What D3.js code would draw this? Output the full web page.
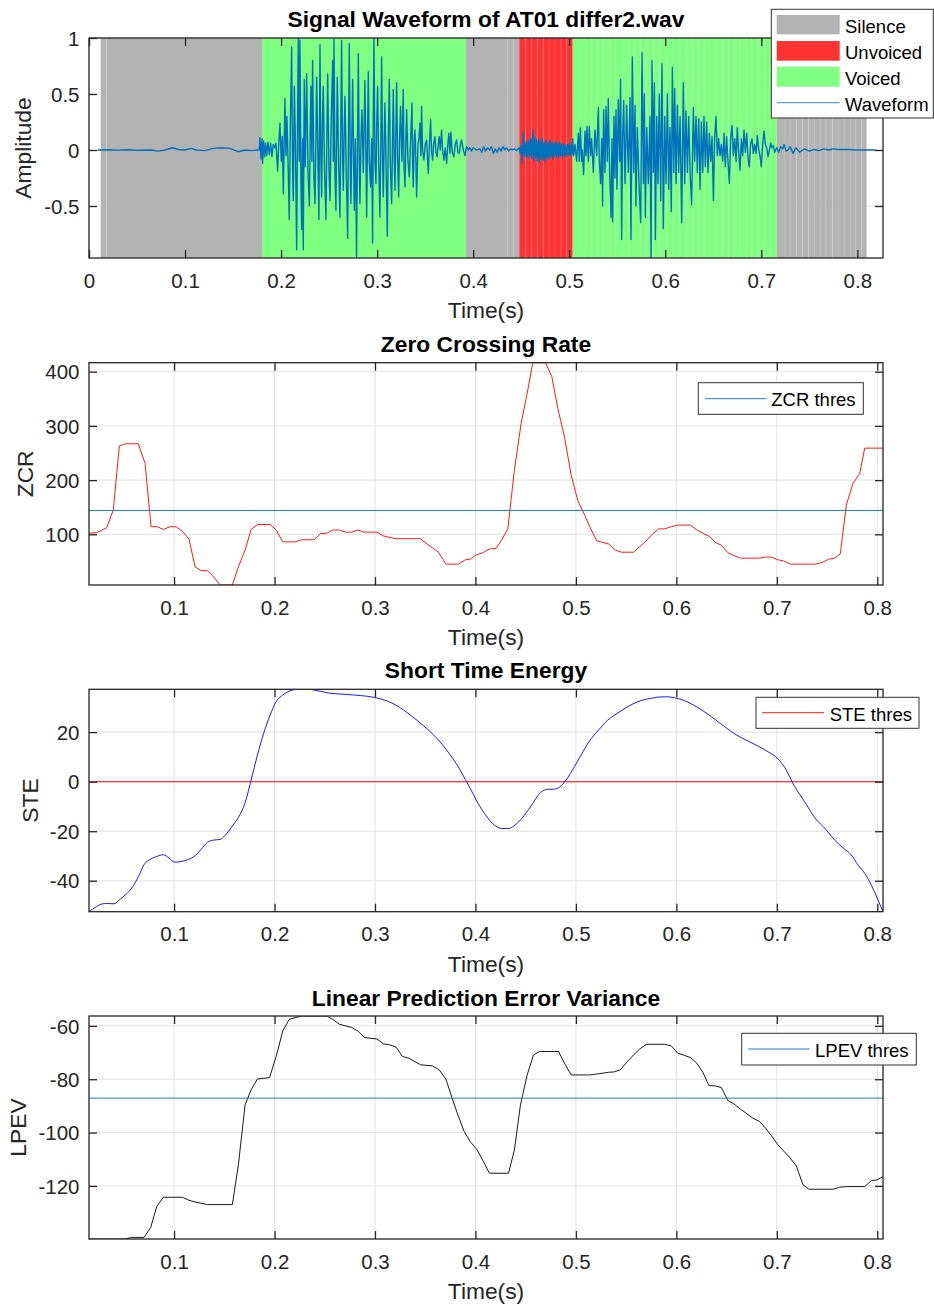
<!DOCTYPE html>
<html>
<head>
<meta charset="utf-8">
<script src="https://cdn.jsdelivr.net/npm/d3@7"></script>
<style>
  body { margin: 0; background: #fff; }
  svg { display: block; font-family: "Liberation Sans", Arial, Helvetica, sans-serif; }
</style>
</head>
<body>
<svg id="fig" width="934" height="1306"></svg>
<script>
// ---------------- data ----------------
// Frame classification of the recording: boundaries (s) and one class per interval
// S = silence, U = unvoiced, V = voiced
const segBounds = [0.0122, 0.0184, 0.1801, 0.3925, 0.4355, 0.4418, 0.4480,
  0.4547, 0.4610, 0.4668, 0.4730, 0.4790, 0.4852, 0.4915, 0.4974, 0.5036,
  0.5102, 0.5165, 0.5234, 0.5297, 0.5355, 0.5420, 0.5485, 0.5550, 0.5620, 0.5685,
  0.5744, 0.5807, 0.5876, 0.5940, 0.6010, 0.6080, 0.6150, 0.6223, 0.6284, 0.6344,
  0.6405, 0.6466, 0.6529, 0.6593, 0.6657, 0.6718, 0.6779, 0.6842, 0.6900, 0.6969,
  0.7030, 0.7091, 0.7161,
  0.7237, 0.7300, 0.7365, 0.7428, 0.7490, 0.7550, 0.7612, 0.7672, 0.7740, 0.7799,
  0.7862, 0.7924, 0.7984, 0.8046, 0.8096];
const segClass = ("SSVSSS" + "UUUUUUUUU" + "VVVVVVVVVV" + "VVVVVVVVVV" + "VVVVVVVVVV" + "VVV" +
  "SSSSSSSSSSSSSSS").split("");

const classNames = ["Silence", "Unvoiced", "Voiced"];

// Waveform samples [time (s), amplitude]
const wave = [
  [0.0090,0.000],[0.0200,0.002],[0.0300,-0.001],[0.0400,0.003],[0.0500,-0.002],[0.0653,0.000],[0.0722,-0.010],
  [0.0791,0.000],[0.0868,0.020],[0.0930,0.005],[0.0999,0.000],[0.1062,0.015],[0.1120,0.000],[0.1208,-0.005],
  [0.1295,0.015],[0.1381,0.020],[0.1468,0.015],[0.1555,-0.015],[0.1624,0.000],[0.1700,-0.005],[0.1750,0.000],
  [0.1773,0.00],[0.1780,0.11],[0.1791,-0.08],[0.1801,0.10],[0.1808,-0.12],[0.1818,0.08],[0.1829,-0.06],[0.1839,0.06],
  [0.1850,-0.05],[0.1863,0.07],[0.1877,-0.04],[0.1891,0.06],[0.1905,-0.06],[0.1919,0.05],[0.1933,0.02],[0.1947,0.06],
  [0.1964,-0.19],[0.1974,0.02],[0.1988,0.24],[0.2002,-0.10],[0.2013,0.12],[0.2023,-0.39],[0.2033,0.10],[0.2040,0.46],
  [0.2051,-0.05],[0.2061,0.30],[0.2075,-0.20],[0.2085,-0.62],[0.2096,0.20],[0.2110,0.92],[0.2120,-0.20],[0.2127,-0.45],
  [0.2138,0.57],[0.2148,0.10],[0.2162,-0.89],[0.2172,0.30],[0.2179,1.00],[0.2189,-0.10],[0.2196,0.98],[0.2207,-0.30],
  [0.2214,-0.71],[0.2224,0.10],[0.2231,-0.89],[0.2241,0.63],[0.2252,-0.15],[0.2266,0.68],[0.2280,-0.20],[0.2294,-0.50],
  [0.2304,0.20],[0.2311,0.57],[0.2321,-0.10],[0.2328,0.80],[0.2342,-0.25],[0.2353,-0.48],[0.2363,0.15],[0.2370,0.65],
  [0.2384,-0.10],[0.2394,-0.62],[0.2405,0.94],[0.2415,-0.10],[0.2422,-0.42],[0.2432,0.30],[0.2439,0.57],[0.2453,-0.20],
  [0.2467,-0.62],[0.2478,0.20],[0.2485,0.68],[0.2498,-0.15],[0.2509,-0.45],[0.2523,0.30],[0.2537,0.80],[0.2544,-0.10],
  [0.2551,0.99],[0.2561,-0.20],[0.2571,-0.54],[0.2585,0.65],[0.2599,-0.10],[0.2613,-0.60],[0.2623,0.30],[0.2630,0.98],
  [0.2641,-0.10],[0.2648,-0.36],[0.2658,0.20],[0.2665,0.48],[0.2679,-0.20],[0.2693,-0.79],[0.2703,0.20],[0.2710,0.95],
  [0.2720,-0.10],[0.2727,-0.48],[0.2738,0.20],[0.2745,0.63],[0.2755,-0.10],[0.2762,-0.54],[0.2773,0.10],[0.2786,-0.95],
  [0.2797,0.20],[0.2804,0.86],[0.2814,-0.10],[0.2821,-0.48],[0.2832,0.10],[0.2842,0.36],[0.2856,-0.20],[0.2873,0.62],
  [0.2884,-0.10],[0.2891,-0.60],[0.2901,0.20],[0.2908,0.70],[0.2918,-0.10],[0.2932,-0.33],[0.2943,0.10],[0.2953,-0.83],
  [0.2960,0.30],[0.2967,1.00],[0.2977,-0.10],[0.2988,-0.30],[0.2995,0.20],[0.3005,0.57],[0.3016,-0.10],[0.3029,-0.60],
  [0.3040,0.20],[0.3047,0.83],[0.3057,-0.10],[0.3064,-0.42],[0.3074,0.10],[0.3081,0.42],[0.3092,-0.10],[0.3106,-0.77],
  [0.3116,0.10],[0.3127,0.63],[0.3137,-0.10],[0.3151,-0.48],[0.3161,0.10],[0.3168,0.54],[0.3179,-0.10],[0.3186,-0.36],
  [0.3196,0.20],[0.3203,0.60],[0.3213,-0.05],[0.3224,-0.42],[0.3234,0.10],[0.3244,0.39],[0.3258,-0.10],[0.3272,0.54],
  [0.3279,-0.10],[0.3290,-0.33],[0.3300,0.10],[0.3307,0.36],[0.3321,-0.10],[0.3335,-0.24],[0.3349,0.10],[0.3363,0.42],
  [0.3369,-0.10],[0.3376,-0.33],[0.3387,0.10],[0.3394,0.18],[0.3404,-0.10],[0.3411,-0.42],[0.3425,0.05],[0.3435,0.10],
  [0.3446,0.24],[0.3456,-0.05],[0.3463,0.39],[0.3473,0.00],[0.3487,-0.09],[0.3501,0.05],[0.3515,0.09],[0.3532,-0.21],
  [0.3543,0.02],[0.3557,0.27],[0.3567,-0.02],[0.3578,-0.09],[0.3588,0.05],[0.3602,0.12],[0.3612,-0.02],[0.3626,-0.06],
  [0.3636,0.05],[0.3647,0.12],[0.3657,0.00],[0.3671,0.18],[0.3681,0.00],[0.3696,-0.09],[0.3709,0.02],[0.3723,-0.12],
  [0.3737,0.06],[0.3747,0.15],[0.3758,-0.03],[0.3768,0.16],[0.3782,-0.02],[0.3799,-0.06],[0.3813,0.05],[0.3827,0.09],
  [0.3841,-0.02],[0.3855,-0.03],[0.3869,0.06],[0.3879,0.09],[0.3897,0.00],[0.3914,-0.05],[0.3931,0.03],[0.3949,0.00],
  [0.3966,0.02],[0.3983,-0.01],[0.4001,0.02],[0.4036,0.00],
  [0.4070,0.01],[0.4090,-0.02],[0.4110,0.03],[0.4130,-0.01],[0.4150,0.02],[0.4170,0.00],[0.4190,0.03],[0.4210,-0.03],
  [0.4230,0.01],[0.4250,-0.02],[0.4270,0.02],[0.4290,-0.01],[0.4310,0.03],[0.4330,0.00],[0.4350,0.02],[0.4370,-0.01],
  [0.4390,0.01],[0.4410,0.00],[0.4430,0.01],[0.4450,-0.005],[0.4470,0.01],
  [0.4480,0.02],[0.4490,-0.03],[0.4500,0.04],[0.4510,-0.12],[0.4520,0.16],[0.4530,-0.05],[0.4540,0.07],[0.4550,-0.06],
  [0.4560,0.08],[0.4570,-0.07],[0.4580,0.09],[0.4590,-0.05],[0.4600,0.10],[0.4610,-0.08],[0.4620,0.18],[0.4630,-0.09],
  [0.4640,0.12],[0.4650,-0.07],[0.4660,0.09],[0.4670,-0.10],[0.4680,0.10],[0.4690,-0.11],[0.4700,0.08],[0.4710,-0.08],
  [0.4720,0.11],[0.4730,-0.09],[0.4740,0.07],[0.4750,-0.10],[0.4760,0.08],[0.4770,-0.07],[0.4780,0.06],[0.4790,-0.08],
  [0.4800,0.09],[0.4810,-0.06],[0.4820,0.07],[0.4830,-0.08],[0.4840,0.06],[0.4850,-0.05],[0.4860,0.08],[0.4870,-0.07],
  [0.4880,0.06],[0.4890,-0.06],[0.4900,0.07],[0.4910,-0.05],[0.4920,0.05],[0.4930,-0.07],[0.4940,0.06],[0.4950,-0.05],
  [0.4960,0.04],[0.4970,-0.06],[0.4980,0.05],[0.4990,-0.04],[0.5000,0.06],[0.5010,-0.05],[0.5020,0.04],[0.5028,-0.04],
  [0.5036,0.10],[0.5046,-0.05],[0.5060,0.05],[0.5077,-0.10],[0.5095,0.15],[0.5105,-0.10],[0.5116,0.20],[0.5129,-0.10],
  [0.5136,0.00],[0.5150,-0.22],[0.5164,0.17],[0.5175,-0.05],[0.5185,0.21],[0.5199,-0.10],[0.5209,0.21],[0.5223,-0.05],
  [0.5233,0.10],[0.5251,-0.20],[0.5268,0.18],[0.5286,-0.05],[0.5303,0.38],[0.5313,-0.10],[0.5327,-0.30],[0.5338,0.10],
  [0.5348,-0.50],[0.5358,0.36],[0.5372,-0.20],[0.5383,0.39],[0.5397,-0.10],[0.5407,0.46],[0.5421,-0.20],[0.5435,-0.60],
  [0.5445,0.10],[0.5452,-0.64],[0.5466,0.30],[0.5476,-0.25],[0.5487,0.36],[0.5497,-0.35],[0.5511,0.45],[0.5525,-0.10],
  [0.5535,0.63],[0.5546,-0.80],[0.5556,0.10],[0.5567,0.44],[0.5581,-0.30],[0.5598,0.40],[0.5615,-0.20],[0.5633,0.47],
  [0.5643,-0.80],[0.5657,0.83],[0.5671,-0.20],[0.5685,0.40],[0.5695,-0.50],[0.5709,0.20],[0.5727,-0.30],[0.5744,-0.65],
  [0.5758,0.87],[0.5772,-0.30],[0.5782,0.50],[0.5793,-0.60],[0.5807,0.20],[0.5824,-0.30],[0.5841,0.30],[0.5852,-0.98],
  [0.5862,0.80],[0.5876,-0.20],[0.5886,0.60],[0.5897,-0.80],[0.5911,0.30],[0.5924,-0.30],[0.5938,0.50],[0.5952,-0.45],
  [0.5966,0.77],[0.5980,-0.70],[0.5994,0.30],[0.6008,-0.30],[0.6022,0.50],[0.6036,-0.35],[0.6049,0.20],[0.6063,-0.55],
  [0.6074,0.74],[0.6088,-0.20],[0.6098,0.55],[0.6112,-0.30],[0.6126,0.40],[0.6140,-0.20],[0.6154,0.30],[0.6171,-0.65],
  [0.6188,0.60],[0.6202,-0.30],[0.6216,0.35],[0.6230,-0.20],[0.6244,0.30],[0.6258,-0.20],[0.6275,-0.49],[0.6292,0.38],
  [0.6306,-0.10],[0.6320,0.30],[0.6334,-0.20],[0.6348,0.28],[0.6362,-0.35],[0.6376,0.25],[0.6390,-0.20],[0.6403,0.30],
  [0.6417,-0.15],[0.6431,0.25],[0.6445,-0.20],[0.6459,0.15],[0.6473,-0.10],[0.6487,0.12],[0.6501,-0.45],[0.6514,0.10],
  [0.6528,0.30],[0.6542,-0.05],[0.6556,0.10],[0.6570,-0.05],[0.6584,0.05],[0.6598,-0.10],[0.6612,0.15],[0.6625,-0.15],
  [0.6639,0.12],[0.6653,-0.10],[0.6667,-0.30],[0.6681,0.10],[0.6695,0.22],[0.6709,-0.05],[0.6723,0.10],[0.6737,-0.10],
  [0.6750,0.20],[0.6764,-0.02],[0.6778,-0.18],[0.6792,0.10],[0.6806,-0.05],[0.6820,0.18],[0.6834,-0.02],[0.6848,0.15],
  [0.6862,-0.08],[0.6875,-0.15],[0.6889,0.05],[0.6903,0.10],[0.6917,-0.03],[0.6931,0.05],[0.6945,-0.03],[0.6959,0.13],
  [0.6973,0.00],[0.6986,-0.05],[0.7000,-0.15],[0.7014,0.05],[0.7028,0.17],[0.7042,0.05],[0.7056,0.02],[0.7070,-0.06],
  [0.7084,0.00],[0.7097,0.06],[0.7111,0.02],[0.7125,0.04],[0.7139,-0.02],[0.7160,0.02],[0.7181,-0.02],[0.7202,0.03],
  [0.7223,0.01],[0.7237,0.05],[0.7258,-0.01],[0.7278,0.00],
  [0.7300,0.03],[0.7330,-0.03],[0.7360,0.02],[0.7400,-0.02],[0.7450,0.01],[0.7500,-0.01],[0.7550,0.005],[0.7600,-0.005],
  [0.7650,0.01],[0.7700,0.00],[0.7750,0.01],[0.7800,0.005],[0.7900,0.005],[0.8000,0.000],[0.8100,0.000],[0.8190,0.000]
];

// Zero crossing rate per frame [time (s), ZCR]
const zcr = [
  [0.0153,102],[0.0229,103],[0.0329,112],[0.0395,145],[0.0455,263],[0.0512,267],[0.0644,267],[0.0711,231],
  [0.0771,114],[0.0834,114],[0.0893,109],[0.0960,114],[0.1020,114],[0.1086,105],[0.1149,91],[0.1209,40],
  [0.1269,33],[0.1332,33],[0.1391,22],[0.1458,6.5],[0.1580,6.5],[0.1640,40],[0.1707,71],[0.1767,109],
  [0.1830,118],[0.1956,118],[0.2016,108],[0.2082,86],[0.2205,86],[0.2271,90],[0.2394,90],[0.2454,101],
  [0.2520,102],[0.2580,108],[0.2646,108],[0.2706,104],[0.2769,104],[0.2829,108],[0.2892,104],[0.3018,104],
  [0.3085,97],[0.3200,92],[0.3449,92],[0.3549,78],[0.3632,67],[0.3706,45],[0.3832,45],[0.3898,53],
  [0.3948,54],[0.4007,62],[0.4073,66],[0.4140,73],[0.4206,74],[0.4262,90],[0.4322,110],[0.4388,219],
  [0.4455,305],[0.4515,360],[0.4571,416.6],[0.4697,416.6],[0.4760,391],[0.4820,332],[0.4886,280],[0.4953,209],
  [0.5019,162],[0.5086,136],[0.5145,111],[0.5208,88],[0.5268,85],[0.5328,82],[0.5394,71],[0.5451,67],
  [0.5574,67],[0.5633,77],[0.5700,88],[0.5760,100],[0.5823,110],[0.5882,110],[0.5949,114],[0.6015,117],
  [0.6138,117],[0.6204,108],[0.6264,102],[0.6331,96],[0.6387,85],[0.6447,80],[0.6513,66],[0.6573,61],
  [0.6639,56],[0.6829,56],[0.6889,58],[0.6945,58],[0.7011,53],[0.7068,51],[0.7135,45],[0.7386,45],
  [0.7449,48],[0.7516,54],[0.7576,56],[0.7632,64],[0.7692,154],[0.7758,194],[0.7825,212],[0.7875,259],
  [0.8057,259]
];
const zcrThres = 144;

// Short time energy per frame [time (s), STE]
const ste = [
  [0.0153,-52.5],[0.0213,-50.8],[0.0279,-49.4],[0.0329,-49.2],[0.0402,-49.3],[0.0462,-47.5],[0.0521,-45.5],
  [0.0588,-42.4],[0.0644,-38.4],[0.0704,-33.3],[0.0770,-31.2],[0.0827,-30.2],[0.0893,-29.5],[0.0953,-31.0],
  [0.1010,-32.5],[0.1076,-32.2],[0.1142,-31.4],[0.1209,-29.9],[0.1269,-27.3],[0.1332,-24.5],[0.1391,-23.6],
  [0.1458,-23.3],[0.1524,-20.9],[0.1580,-17.9],[0.1640,-14.4],[0.1707,-8.5],[0.1767,0.7],[0.1830,10.8],
  [0.1890,19.3],[0.1956,26.9],[0.2016,32.3],[0.2082,35.0],[0.2148,36.6],[0.2205,37.2],[0.2271,37.3],
  [0.2338,37.3],[0.2404,36.9],[0.2470,36.4],[0.2537,35.8],[0.2653,35.4],[0.2786,35.0],[0.2919,34.5],
  [0.3018,33.8],[0.3118,32.6],[0.3218,30.7],[0.3351,26.9],[0.3483,22.6],[0.3616,17.5],[0.3749,10.8],
  [0.3848,4.7],[0.3900,0.8],[0.3948,-2.7],[0.4007,-7.4],[0.4090,-12.8],[0.4196,-17.8],[0.4262,-18.9],
  [0.4329,-18.9],[0.4395,-17.5],[0.4462,-14.8],[0.4554,-9.8],[0.4647,-4.4],[0.4714,-3.1],[0.4780,-3.0],
  [0.4837,-2.2],[0.4903,0.7],[0.4986,6.1],[0.5052,10.8],[0.5135,16.4],[0.5218,20.5],[0.5318,24.9],
  [0.5401,27.3],[0.5517,30.3],[0.5617,32.3],[0.5750,33.7],[0.5882,34.3],[0.5982,33.9],[0.6082,32.7],
  [0.6215,29.9],[0.6347,26.3],[0.6480,22.2],[0.6596,18.9],[0.6713,16.4],[0.6812,14.4],[0.6895,12.5],
  [0.7011,9.2],[0.7078,5.8],[0.7178,-2.0],[0.7277,-8.1],[0.7377,-14.5],[0.7493,-19.5],[0.7576,-23.6],
  [0.7659,-26.7],[0.7742,-29.6],[0.7809,-33.7],[0.7875,-37.0],[0.7941,-41.8],[0.8008,-47.8],[0.8057,-52.5]
];
const steThres = 0;

// Linear prediction error variance per frame [time (s), LPEV]
const lpev = [
  [0.0153,-139.9],[0.0512,-139.9],[0.0578,-139.3],[0.0701,-139.3],[0.0767,-135.6],[0.0827,-127.75],
  [0.0893,-124.25],[0.1083,-124.25],[0.1149,-125.4],[0.1209,-126],[0.1332,-127],[0.1580,-127],
  [0.1640,-112.1],[0.1707,-89.6],[0.1767,-84],[0.1830,-79.9],[0.1950,-79.4],[0.2016,-71.5],
  [0.2082,-61.9],[0.2148,-57.5],[0.2271,-56.3],[0.2520,-56.3],[0.2587,-57.75],[0.2646,-59.4],
  [0.2769,-60.6],[0.2836,-62.1],[0.2896,-64.4],[0.3018,-64.9],[0.3085,-66.75],[0.3145,-67.1],
  [0.3211,-68],[0.3274,-71.5],[0.3334,-72.1],[0.3456,-74.6],[0.3572,-75],[0.3639,-76.5],
  [0.3705,-79.9],[0.3765,-86.75],[0.3825,-93.4],[0.3888,-99.6],[0.3948,-103.4],[0.4017,-106.5],
  [0.4080,-110.9],[0.4139,-115.25],[0.4329,-115.25],[0.4388,-106.5],[0.4448,-89.6],[0.4515,-78.4],
  [0.4578,-70.9],[0.4637,-69.6],[0.4827,-69.6],[0.4886,-74],[0.4953,-78.4],[0.5135,-78.4],
  [0.5202,-78.1],[0.5325,-77.4],[0.5384,-77.25],[0.5444,-76.4],[0.5507,-73.6],[0.5574,-70.9],
  [0.5633,-68.75],[0.5700,-66.9],[0.5882,-66.9],[0.5949,-67.5],[0.6015,-70.25],[0.6082,-71.1],
  [0.6141,-71.9],[0.6204,-74],[0.6264,-77.4],[0.6324,-82.4],[0.6387,-82.5],[0.6447,-83.1],
  [0.6513,-88],[0.6573,-89.25],[0.6639,-91.25],[0.6762,-94.6],[0.6829,-95.9],[0.6889,-98.4],
  [0.6945,-101.1],[0.7011,-104.6],[0.7134,-109.6],[0.7194,-112.5],[0.7261,-119.6],[0.7320,-121.25],
  [0.7559,-121.25],[0.7626,-120.5],[0.7692,-120.25],[0.7875,-120.25],[0.7941,-118],[0.7998,-117.75],
  [0.8057,-116.5]
];
const lpevThres = -87.1;

// Axis limits and ticks
const waveTimeRange = [0, 0.8267];
const ampRange = [-0.964, 1];
const frameTimeRange = [0.0153, 0.8057];
const timeTicksWave = [0, 0.1, 0.2, 0.3, 0.4, 0.5, 0.6, 0.7, 0.8];
const timeTicks = [0.1, 0.2, 0.3, 0.4, 0.5, 0.6, 0.7, 0.8];
const ampTicks = [-0.5, 0, 0.5, 1];
const zcrTicks = [100, 200, 300, 400];
const steTicks = [-40, -20, 0, 20];
const lpevTicks = [-120, -100, -80, -60];

// ---------------- style ----------------
const COL = {
  S: "#b3b3b3", U: "#ff3333", V: "#80ff80",
  wave: "#0072bd", thresBlue: "#0072bd", zcr: "#ff0000", ste: "#0000ff", steThres: "#ff0000", lpev: "#000000",
  axis: "#262626", grid: "#e1e1e1"
};
const TICK_FS = 20.5, LABEL_FS = 22.8, TITLE_FS = 22.8, LEGEND_FS = 18.5;
const L = 89, R = 883, TICK_LEN = 8;

const svg = d3.select("#fig");
const defs = svg.append("defs");

function makePanel(opt) {
  const x = d3.scaleLinear().domain(opt.xDomain).range([L, R]);
  const y = d3.scaleLinear().domain(opt.yDomain).range([opt.bottom, opt.top]);
  const g = svg.append("g");

  defs.append("clipPath").attr("id", opt.id)
    .append("rect").attr("x", L).attr("y", opt.top)
    .attr("width", R - L).attr("height", opt.bottom - opt.top);

  // grid
  const grid = g.append("g").attr("stroke", COL.grid).attr("stroke-width", 1);
  grid.selectAll("line.gx").data(opt.xTicks).join("line")
    .attr("x1", d => x(d)).attr("x2", d => x(d)).attr("y1", opt.top).attr("y2", opt.bottom);
  grid.selectAll("line.gy").data(opt.yTicks).join("line")
    .attr("class", "gy")
    .attr("x1", L).attr("x2", R).attr("y1", d => y(d)).attr("y2", d => y(d));

  const plot = g.append("g").attr("clip-path", `url(#${opt.id})`);

  function finish() {
    const fmt = d => String(d);
    const axB = g.append("g").attr("transform", `translate(0,${opt.bottom})`)
      .call(d3.axisBottom(x).tickValues(opt.xTicks).tickSize(-TICK_LEN).tickPadding(15).tickFormat(fmt));
    const axT = g.append("g").attr("transform", `translate(0,${opt.top})`)
      .call(d3.axisTop(x).tickValues(opt.xTicks).tickSize(-TICK_LEN).tickFormat(""));
    const axLft = g.append("g").attr("transform", `translate(${L},0)`)
      .call(d3.axisLeft(y).tickValues(opt.yTicks).tickSize(-TICK_LEN).tickPadding(9.5).tickFormat(fmt));
    const axRgt = g.append("g").attr("transform", `translate(${R},0)`)
      .call(d3.axisRight(y).tickValues(opt.yTicks).tickSize(-TICK_LEN).tickFormat(""));
    [axB, axT, axLft, axRgt].forEach(a => {
      a.attr("color", COL.axis).attr("font-family", null).attr("font-size", TICK_FS);
      a.select(".domain").remove();
      a.selectAll(".tick line").attr("stroke-width", 1.3);
      a.selectAll(".tick text").attr("fill", COL.axis);
    });
    axB.selectAll(".tick text").attr("dy", "0.71em");
    axLft.selectAll(".tick text").attr("dy", "0.35em");

    g.append("rect").attr("x", L).attr("y", opt.top)
      .attr("width", R - L).attr("height", opt.bottom - opt.top)
      .attr("fill", "none").attr("stroke", COL.axis).attr("stroke-width", 1.3);

    g.append("text").attr("x", (L + R) / 2).attr("y", opt.titleY)
      .attr("text-anchor", "middle").attr("font-size", TITLE_FS).attr("font-weight", "bold")
      .attr("fill", "#000").text(opt.title);

    g.append("text").attr("x", (L + R) / 2).attr("y", opt.bottom + 60)
      .attr("text-anchor", "middle").attr("font-size", LABEL_FS).attr("fill", COL.axis)
      .text("Time(s)");

    g.append("text")
      .attr("transform", `translate(${opt.ylabelX},${(opt.top + opt.bottom) / 2}) rotate(-90)`)
      .attr("text-anchor", "middle").attr("font-size", LABEL_FS).attr("fill", COL.axis)
      .text(opt.ylabel);
  }
  return { x, y, g, plot, finish };
}

function legendBox(g, box, items) {
  g.append("rect").attr("x", box.x).attr("y", box.y).attr("width", box.w).attr("height", box.h)
    .attr("fill", "#fff").attr("stroke", "#333").attr("stroke-width", 1);
  items.forEach(it => {
    if (it.type === "patch") {
      g.append("rect").attr("x", it.x0).attr("y", it.y0).attr("width", it.x1 - it.x0)
        .attr("height", it.y1 - it.y0).attr("fill", it.color);
    } else {
      g.append("line").attr("x1", it.x0).attr("x2", it.x1).attr("y1", it.y).attr("y2", it.y)
        .attr("stroke", it.color).attr("stroke-width", it.width || 1);
    }
    g.append("text").attr("x", it.tx).attr("y", it.ty).attr("font-size", LEGEND_FS)
      .attr("fill", "#000").text(it.label);
  });
}

// ---------------- panel 1: waveform ----------------
const p1 = makePanel({
  id: "clipWave", top: 38, bottom: 258, xDomain: waveTimeRange, yDomain: ampRange,
  xTicks: timeTicksWave, yTicks: ampTicks, title: "Signal Waveform of AT01 differ2.wav",
  titleY: 27, ylabel: "Amplitude", ylabelX: 31
});
{
  const { x, y, plot } = p1;
  const nSeg = Math.min(segClass.length, segBounds.length - 1);
  const segs = d3.range(nSeg).map(i => ({ t0: segBounds[i], t1: segBounds[i + 1], c: segClass[i] }));
  plot.selectAll("rect.seg").data(segs).join("rect").attr("class", "seg")
    .attr("x", d => x(d.t0)).attr("width", d => x(d.t1) - x(d.t0))
    .attr("y", y.range()[1]).attr("height", y.range()[0] - y.range()[1])
    .attr("fill", d => COL[d.c]);
  // faint seams between consecutive frames of the same class
  const seams = d3.range(1, nSeg).filter(i => segClass[i] === segClass[i - 1]).map(i => segBounds[i]);
  plot.selectAll("line.seam").data(seams).join("line").attr("class", "seam")
    .attr("x1", d => x(d)).attr("x2", d => x(d))
    .attr("y1", y.range()[1]).attr("y2", y.range()[0])
    .attr("stroke", "#ffffff").attr("stroke-opacity", d => 0.18).attr("stroke-width", 0.8);

  plot.append("path").datum(wave)
    .attr("d", d3.line().x(d => x(d[0])).y(d => y(d[1])))
    .attr("fill", "none").attr("stroke", COL.wave).attr("stroke-width", 1.4)
    .attr("stroke-linejoin", "round");
}
p1.finish();
legendBox(p1.g, { x: 771.3, y: 9.3, w: 162, h: 108.7 }, [
  { type: "patch", x0: 776.7, x1: 839.7, y0: 15, y1: 34.3, color: COL.S, tx: 845, ty: 32.7, label: classNames[0] },
  { type: "patch", x0: 776.7, x1: 839.7, y0: 41, y1: 60.7, color: COL.U, tx: 845, ty: 59.3, label: classNames[1] },
  { type: "patch", x0: 776.7, x1: 839.7, y0: 66.7, y1: 86.7, color: COL.V, tx: 845, ty: 85, label: classNames[2] },
  { type: "line", x0: 776.7, x1: 839.7, y: 102.7, color: COL.wave, width: 0.8, tx: 845, ty: 110.7, label: "Waveform" }
]);

// ---------------- panel 2: ZCR ----------------
const p2 = makePanel({
  id: "clipZcr", top: 362.7, bottom: 585, xDomain: frameTimeRange, yDomain: d3.extent(zcr, d => d[1]),
  xTicks: timeTicks, yTicks: zcrTicks, title: "Zero Crossing Rate", titleY: 351.7,
  ylabel: "ZCR", ylabelX: 33.3
});
{
  const { x, y, plot } = p2;
  plot.append("path").datum(zcr)
    .attr("d", d3.line().x(d => x(d[0])).y(d => y(d[1])))
    .attr("fill", "none").attr("stroke", COL.zcr).attr("stroke-width", 0.9);
  plot.append("line").attr("x1", L).attr("x2", R).attr("y1", y(zcrThres)).attr("y2", y(zcrThres))
    .attr("stroke", COL.thresBlue).attr("stroke-width", 0.9);
}
p2.finish();
legendBox(p2.g, { x: 698.3, y: 382.7, w: 165, h: 31.6 }, [
  { type: "line", x0: 705, x1: 766.7, y: 398.7, color: COL.thresBlue, width: 0.9, tx: 771.3, ty: 406, label: "ZCR thres" }
]);

// ---------------- panel 3: STE ----------------
const p3 = makePanel({
  id: "clipSte", top: 689.3, bottom: 911.7, xDomain: frameTimeRange, yDomain: d3.extent(ste, d => d[1]),
  xTicks: timeTicks, yTicks: steTicks, title: "Short Time Energy", titleY: 678.3,
  ylabel: "STE", ylabelX: 38.3
});
{
  const { x, y, plot } = p3;
  plot.append("path").datum(ste)
    .attr("d", d3.line().curve(d3.curveMonotoneX).x(d => x(d[0])).y(d => y(d[1])))
    .attr("fill", "none").attr("stroke", COL.ste).attr("stroke-width", 0.9);
  plot.append("line").attr("x1", L).attr("x2", R).attr("y1", y(steThres)).attr("y2", y(steThres))
    .attr("stroke", COL.steThres).attr("stroke-width", 1.1);
}
p3.finish();
legendBox(p3.g, { x: 756, y: 697.3, w: 163, h: 31 }, [
  { type: "line", x0: 762.3, x1: 824, y: 712.7, color: COL.steThres, width: 0.9, tx: 829.7, ty: 720.7, label: "STE thres" }
]);

// ---------------- panel 4: LPEV ----------------
const p4 = makePanel({
  id: "clipLpev", top: 1016, bottom: 1239, xDomain: frameTimeRange, yDomain: d3.extent(lpev, d => d[1]),
  xTicks: timeTicks, yTicks: lpevTicks, title: "Linear Prediction Error Variance", titleY: 1005.7,
  ylabel: "LPEV", ylabelX: 26
});
{
  const { x, y, plot } = p4;
  plot.append("path").datum(lpev)
    .attr("d", d3.line().x(d => x(d[0])).y(d => y(d[1])))
    .attr("fill", "none").attr("stroke", COL.lpev).attr("stroke-width", 0.9);
  plot.append("line").attr("x1", L).attr("x2", R).attr("y1", y(lpevThres)).attr("y2", y(lpevThres))
    .attr("stroke", COL.thresBlue).attr("stroke-width", 0.9);
}
p4.finish();
legendBox(p4.g, { x: 741.7, y: 1033.3, w: 174.6, h: 31.7 }, [
  { type: "line", x0: 748.3, x1: 809.7, y: 1049, color: COL.thresBlue, width: 0.9, tx: 815, ty: 1056.7, label: "LPEV thres" }
]);
</script>
</body>
</html>
